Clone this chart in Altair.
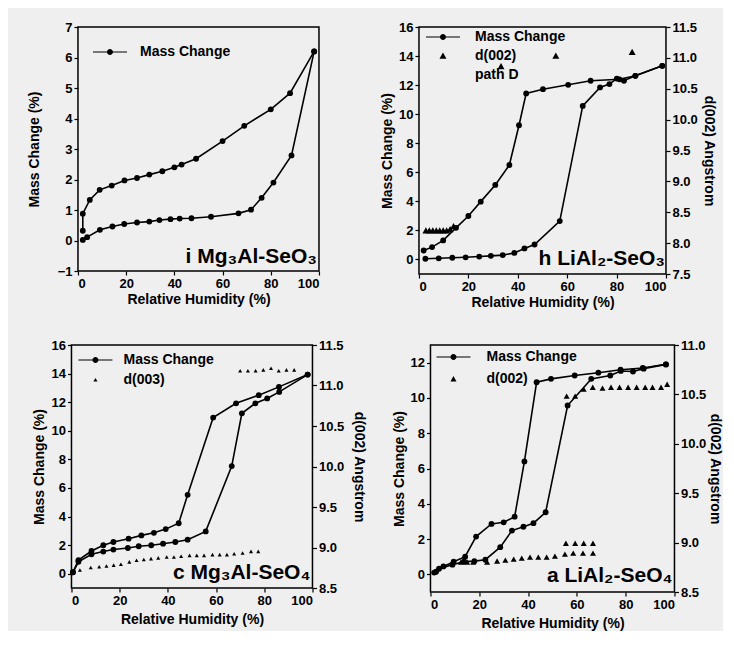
import altair as alt
import pandas as pd

FONT = "Liberation Sans"

# ---------------- Panel i : Mg3Al-SeO3 ----------------
i_ads_rh = [2, 3.8, 9.1, 14.3, 19.2, 24.5, 29.6, 33.8, 38.4, 42.2, 47.1, 55.2, 66.6, 71.8, 76.2, 81.1, 88.6, 98]
i_ads_mc = [0.02, 0.11, 0.35, 0.46, 0.54, 0.59, 0.62, 0.67, 0.70, 0.72, 0.73, 0.78, 0.89, 1.01, 1.40, 1.90, 2.79, 6.2]
i_des_rh = [98, 88, 80, 69, 60, 49, 43, 40, 35, 29.6, 24.5, 19.3, 14, 9, 4.9, 2, 2]
i_des_mc = [6.2, 4.83, 4.3, 3.76, 3.26, 2.68, 2.49, 2.4, 2.27, 2.16, 2.05, 1.97, 1.8, 1.66, 1.33, 0.88, 0.32]

# ---------------- Panel h : LiAl2-SeO3 ----------------
h_ads_rh = [2.6, 8, 13.5, 18.9, 24.4, 29.1, 33.9, 38.6, 42.7, 46.8, 57, 66.3, 73.3, 77.1, 80.1, 83, 87.6, 98.5]
h_ads_mc = [0.05, 0.08, 0.12, 0.15, 0.2, 0.25, 0.3, 0.45, 0.76, 1.03, 2.64, 10.57, 11.84, 12.07, 12.45, 12.3, 12.64, 13.33]
h_des_rh = [98.5, 87.6, 81.2, 69.5, 60.4, 50.2, 43.4, 40.5, 36.6, 30.9, 25, 20, 15, 9.8, 5.3, 1.9]
h_des_mc = [13.33, 12.64, 12.4, 12.3, 12.02, 11.72, 11.43, 9.24, 6.5, 5.13, 3.98, 2.99, 2.18, 1.31, 0.85, 0.62]
h_d_rh = [2.8, 4.2, 5.6, 7.0, 8.4, 9.8, 11.2, 12.6, 14.0, 33.2, 55.4, 86.3]
h_d_val = [8.2, 8.2, 8.2, 8.2, 8.2, 8.2, 8.2, 8.22, 8.27, 10.86, 11.03, 11.09]

# ---------------- Panel c : Mg3Al-SeO4 ----------------
c_ads_rh = [0.6, 2.9, 8.3, 13.2, 17.4, 23.4, 27.9, 33.1, 38, 43.1, 48.2, 55.7, 66.5, 70.7, 76.3, 81.2, 86.2, 98]
c_ads_mc = [0.1, 0.83, 1.36, 1.55, 1.69, 1.8, 1.92, 1.99, 2.1, 2.22, 2.38, 2.96, 7.53, 11.22, 11.92, 12.26, 12.72, 13.93]
c_des_rh = [98, 86.1, 77.7, 68.3, 58.8, 48.2, 44.5, 39.1, 34.2, 29, 23.7, 17.4, 13.2, 8.3, 2.9, 0.6]
c_des_mc = [13.93, 13.07, 12.49, 11.92, 10.92, 5.52, 3.53, 3.12, 2.86, 2.68, 2.45, 2.22, 1.99, 1.59, 0.95, 0.1]
c_d_rh = [3.5, 8, 11.5, 14.5, 17.5, 20.5, 24, 27, 30, 33, 36, 39.5, 42.5, 45.5, 49, 52, 55,
          58.5, 61.5, 64.5, 67.5, 71, 74.5, 77.5,
          70, 73.2, 76.4, 79.6, 82.8, 86, 89.2, 92.4]
c_d_val = [8.72, 8.75, 8.76, 8.77, 8.78, 8.79, 8.82, 8.84, 8.85, 8.86, 8.87, 8.88, 8.88, 8.89, 8.9, 8.9, 8.9,
           8.91, 8.91, 8.91, 8.92, 8.93, 8.95, 8.95,
           11.18, 11.18, 11.18, 11.19, 11.21, 11.18, 11.19, 11.19]

# ---------------- Panel a : LiAl2-SeO4 ----------------
a_ads_rh = [1.5, 3.5, 9, 13.7, 18, 22.5, 28.6, 33.4, 38.1, 42.2, 47.2, 56.2, 65.9, 73.7, 78, 83, 87.4, 96.5]
a_ads_mc = [0.1, 0.32, 0.55, 0.72, 0.75, 0.83, 1.54, 2.48, 2.7, 2.9, 3.52, 9.57, 11.08, 11.27, 11.53, 11.5, 11.66, 11.9]
a_des_rh = [96.5, 87, 77.9, 68.8, 59.1, 49.4, 43.5, 38.5, 34.5, 30, 25, 18.7, 14.2, 9.5, 5.3, 2.3]
a_des_mc = [11.9, 11.7, 11.6, 11.43, 11.27, 11.08, 10.89, 6.4, 3.27, 2.95, 2.86, 2.14, 1.0, 0.72, 0.45, 0.15]
a_d_rh = [12.5, 15, 17.5, 23.2, 27.3, 30.7, 34.1, 37.4, 40.8, 44.2, 47.6, 51, 55.1, 58.5, 62.5, 66.6,
          55.5, 59.3, 62.8, 66.6,
          55.8, 59.3, 62.8, 66.5, 70.5, 74, 77.5, 81, 84.5, 88, 91, 94.5, 97]
a_d_val = [8.8, 8.8, 8.8, 8.8, 8.81, 8.82, 8.83, 8.84, 8.85, 8.85, 8.85, 8.86, 8.88, 8.89, 8.89, 8.89,
           8.99, 8.99, 8.99, 8.99,
           10.48, 10.48, 10.55, 10.57, 10.56, 10.57, 10.57, 10.57, 10.57, 10.57, 10.57, 10.57, 10.6]

# legend symbol: line with a dot (centred on origin, extends beyond unit box)
LINE_SYM = ("M-3.4,-0.11H-0.55V0.11H-3.4Z M0.55,-0.11H3.4V0.11H0.55Z "
            "M0.6,0A0.6,0.6 0 1,1 -0.6,0A0.6,0.6 0 1,1 0.6,0Z")
BLANK = "M0,0Z"


def tri(t):
    return f"M0,{-t:.2f}L{t:.2f},{0.8*t:.2f}L{-t:.2f},{0.8*t:.2f}Z"


def curves(ads_rh, ads_mc, des_rh, des_mc, name):
    rows = []
    for k, (x, y) in enumerate(zip(ads_rh, ads_mc)):
        rows.append(dict(rh=x, mc=y, branch="ads", k=k, series=name))
    for k, (x, y) in enumerate(zip(des_rh, des_mc)):
        rows.append(dict(rh=x, mc=y, branch="des", k=k, series=name))
    return pd.DataFrame(rows)


def leg(lx, ly, loff, rowpad, **kw):
    return alt.Legend(orient="none", legendX=lx, legendY=ly, direction="vertical", title=None,
                      symbolSize=100, labelFont=FONT, labelFontWeight="bold", labelFontSize=14,
                      labelColor="black", labelOffset=loff, rowPadding=rowpad, padding=0,
                      symbolStrokeWidth=0, **kw)


def panel(df, ydom, yticks, W, H, ytp, xtp, label, lab_dx, lab_dy,
          tri_df=None, rdom=None, rticks=None, rtp=5, tri_t=0.7, tri_legend=None,
          pts_legend=None):
    x = alt.X("rh:Q", scale=alt.Scale(domain=[0, 100], nice=False),
              axis=alt.Axis(values=[0, 20, 40, 60, 80, 100], title="Relative Humidity (%)",
                            titlePadding=xtp))
    y = alt.Y("mc:Q", scale=alt.Scale(domain=ydom, nice=False),
              axis=alt.Axis(values=yticks, title="Mass Change (%)", orient="left", titlePadding=ytp))
    line = alt.Chart(df).mark_line(color="black", strokeWidth=1.6).encode(
        x=x, y=y, detail="branch:N", order="k:Q")
    if pts_legend is not None:
        pts = alt.Chart(df).mark_point(filled=True, size=34, opacity=1).encode(
            x=x, y=y,
            color=alt.Color("series:N", scale=alt.Scale(range=["black"]), legend=pts_legend))
    else:
        pts = alt.Chart(df).mark_point(filled=True, color="black", size=34, opacity=1).encode(x=x, y=y)
    txt = alt.Chart(pd.DataFrame({"t": [label]})).mark_text(
        font=FONT, fontSize=21, fontWeight="bold", align="right",
        baseline="alphabetic", color="black").encode(
        x=alt.value(W - lab_dx), y=alt.value(H - lab_dy), text="t:N")
    mass = alt.layer(line, pts, txt)
    if tri_df is None:
        return mass.properties(width=W, height=H)
    doms = tri_legend[0]
    rng = [LINE_SYM, tri(tri_t)] + [BLANK] * (len(doms) - 2)
    tris = alt.Chart(tri_df).mark_point(filled=True, color="black", size=100, opacity=1).encode(
        x=x,
        y=alt.Y("d:Q", scale=alt.Scale(domain=rdom, nice=False),
                axis=alt.Axis(values=rticks, format=".1f", title="d(002) Angstrom",
                              orient="right", titlePadding=rtp)),
        shape=alt.Shape("series:N", scale=alt.Scale(domain=doms, range=rng), legend=tri_legend[1]))
    return alt.layer(mass, tris).resolve_scale(y="independent").properties(width=W, height=H)


def tri_frame(rh, val, name):
    return pd.DataFrame({"rh": rh, "d": val, "series": [name] * len(rh)})


p_i = panel(curves(i_ads_rh, i_ads_mc, i_des_rh, i_des_mc, "Mass Change"), [-1, 7], list(range(-1, 8)),
            241, 244, 16, 2, "i Mg₃Al-SeO₃", 2, 8,
            pts_legend=leg(25, 18, 23, 4, symbolType=LINE_SYM))

p_h = panel(curves(h_ads_rh, h_ads_mc, h_des_rh, h_des_mc, "h"), [-1, 16], list(range(0, 17, 2)),
            247, 247, 4, 2, "h LiAl₂-SeO₃", 1, 9,
            tri_df=tri_frame(h_d_rh, h_d_val, "d(002)"), rdom=[7.5, 11.5],
            rticks=[7.5, 8.0, 8.5, 9.0, 9.5, 10.0, 10.5, 11.0, 11.5], rtp=4, tri_t=0.7,
            tri_legend=(["Mass Change", "d(002)", "path D"], leg(17, 3, 25, 5)))

p_c = panel(curves(c_ads_rh, c_ads_mc, c_des_rh, c_des_mc, "c"), [-1, 16], list(range(0, 17, 2)),
            241, 243, 5, 5, "c Mg₃Al-SeO₄", 2, 9,
            tri_df=tri_frame(c_d_rh, c_d_val, "d(003)"), rdom=[8.5, 11.5],
            rticks=[8.5, 9.0, 9.5, 10.0, 10.5, 11.0, 11.5], rtp=8, tri_t=0.4,
            tri_legend=(["Mass Change", "d(003)"], leg(17, 8, 21, 6)))

p_a = panel(curves(a_ads_rh, a_ads_mc, a_des_rh, a_des_mc, "a"), [-1, 13], list(range(0, 13, 2)),
            244, 247, 4, 5, "a LiAl₂-SeO₄", 2, 10,
            tri_df=tri_frame(a_d_rh, a_d_val, "d(002)"), rdom=[8.5, 11.0],
            rticks=[8.5, 9.0, 9.5, 10.0, 10.5, 11.0], rtp=2, tri_t=0.6,
            tri_legend=(["Mass Change", "d(002)"], leg(16, 5, 26, 8)))

IND = dict(shape="independent", color="independent")

top = alt.hconcat(p_i, p_h, spacing=58).resolve_scale(**IND).resolve_legend(**IND)
bottom = alt.hconcat(p_c, p_a, spacing=23).resolve_scale(**IND).resolve_legend(**IND)

chart = alt.vconcat(top, bottom, spacing=28, center=True).resolve_scale(**IND).resolve_legend(**IND).properties(
    padding={"left": 18, "top": 12, "right": 0, "bottom": 0}
).configure(background="#efefef").configure_view(
    stroke="black", strokeWidth=1.5
).configure_axis(
    grid=False, domain=False, tickColor="black", tickSize=4, tickWidth=1.2,
    labelFont=FONT, labelFontWeight="bold", labelFontSize=13, labelColor="black", labelPadding=2,
    titleFont=FONT, titleFontWeight="bold", titleFontSize=14, titleColor="black"
)

chart.save("out.html", embed_options={"renderer": "svg", "actions": False})
